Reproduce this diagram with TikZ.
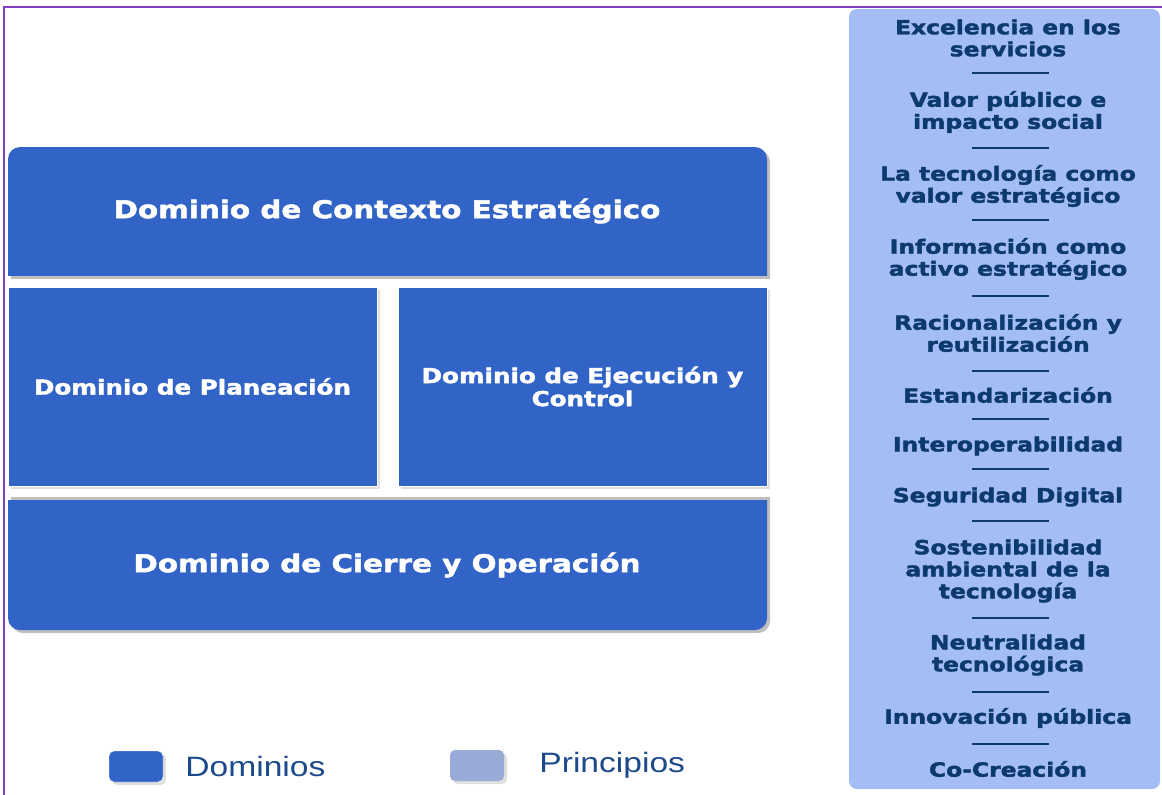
\documentclass[tikz,border=0pt]{standalone}
\usepackage{fontspec}
\usepackage{xcolor}
\usetikzlibrary{calc,positioning,shadows}
\newfontfamily\titlefont[FakeStretch=1.2,FakeBold=2]{DejaVu Sans Bold}
\newfontfamily\legendfont[FakeStretch=1.2]{Liberation Sans}
\definecolor{domBlue}{RGB}{50,100,200}
\definecolor{prinBlue}{RGB}{164,190,245}
\definecolor{legendGray}{RGB}{152,171,214}
\definecolor{textNavy}{RGB}{12,58,110}
\definecolor{legendNavy}{RGB}{28,74,138}
\definecolor{framePurple}{RGB}{128,64,192}
\tikzset{
  domshadow/.style={fill=black!25},
  dombox/.style={fill=domBlue,draw=white,line width=1pt,text=white,align=center,
    font=\titlefont\fontsize{20.5}{23}\selectfont,
    drop shadow={shadow xshift=3pt,shadow yshift=-3pt,fill=black!25}},
  domtitle/.style={text=white,align=center,font=\titlefont\fontsize{24.5}{26}\selectfont},
  prinlabel/.style={text=textNavy,align=center,inner sep=0pt,font=\titlefont\fontsize{19.5}{22}\selectfont},
  prinsep/.style={draw=textNavy,line width=1.2pt},
  legbox/.style={rounded corners=5pt,minimum width=54pt,minimum height=31pt,inner sep=0pt,
    drop shadow={shadow xshift=3pt,shadow yshift=-3pt,fill=black!25}},
  legtext/.style={text=legendNavy,font=\legendfont\fontsize{28}{30}\selectfont,inner sep=0pt}
}
\begin{document}
\begin{tikzpicture}[x=1pt,y=-1pt]
\useasboundingbox (0,0) rectangle (1162,795);
% frame
\draw[framePurple,line width=1.5pt] (4,795) -- (4,7) -- (1162,7);

% dominio de contexto estrategico (rounded on top only)
\begin{scope}
\clip (0,140) rectangle (780,278);
\fill[domshadow,rounded corners=12pt] (11,150) rectangle (770,300);
\end{scope}
\begin{scope}
\clip (0,140) rectangle (780,275);
\fill[domBlue,rounded corners=12pt] (8,147) rectangle (767,300);
\end{scope}
\node[domtitle] (contexto) at (387,211) {Dominio de Contexto Estratégico};

% planeacion / ejecucion
\node[dombox,minimum width=369pt,minimum height=199pt] (planeacion) at (192.5,386.5) {Dominio de Planeación};
\node[dombox,minimum width=369pt,minimum height=199pt] (ejecucion) at (582.5,386.5) {Dominio de Ejecución y\\Control};

% dominio de cierre (rounded at bottom only)
\begin{scope}
\clip (0,497) rectangle (780,640);
\fill[domshadow,rounded corners=12pt] (11,480) rectangle (770,633);
\end{scope}
\begin{scope}
\clip (0,500) rectangle (780,640);
\fill[domBlue,rounded corners=12pt] (8,480) rectangle (767,630);
\end{scope}
\node[domtitle] (cierre) at (387,565) {Dominio de Cierre y Operación};

% principios
\fill[prinBlue,rounded corners=8pt] (849,9) rectangle (1160,789);
\node[prinlabel] (excelencia) at (1008,38) {Excelencia en los\\servicios};
\draw[prinsep] (972,73) -- (1049,73);
\node[prinlabel] (valor) at (1008,112) {Valor público e\\impacto social};
\draw[prinsep] (972,148) -- (1049,148);
\node[prinlabel] (tecnologia) at (1008,186) {La tecnología como\\valor estratégico};
\draw[prinsep] (972,220) -- (1049,220);
\node[prinlabel] (informacion) at (1008,259) {Información como\\activo estratégico};
\draw[prinsep] (972,296) -- (1049,296);
\node[prinlabel] (racionalizacion) at (1008,333) {Racionalización y\\reutilización};
\draw[prinsep] (972,371) -- (1049,371);
\node[prinlabel] (estandarizacion) at (1008,395) {Estandarización};
\draw[prinsep] (972,419) -- (1049,419);
\node[prinlabel] (interoperabilidad) at (1008,446) {Interoperabilidad};
\draw[prinsep] (972,469) -- (1049,469);
\node[prinlabel] (seguridad) at (1008,497) {Seguridad Digital};
\draw[prinsep] (972,521) -- (1049,521);
\node[prinlabel] (sostenibilidad) at (1008,571) {Sostenibilidad\\ambiental de la\\tecnología};
\draw[prinsep] (972,618) -- (1049,618);
\node[prinlabel] (neutralidad) at (1008,655) {Neutralidad\\tecnológica};
\draw[prinsep] (972,692) -- (1049,692);
\node[prinlabel] (innovacion) at (1008,718) {Innovación pública};
\draw[prinsep] (972,744) -- (1049,744);
\node[prinlabel] (cocreacion) at (1008,769) {Co-Creación};

% leyenda
\node[legbox,fill=domBlue,draw=white] (keyDom) at (136,766.5) {};
\node[legtext,anchor=west,right=22pt of keyDom] (keyDomText) {Dominios};
\node[legbox,fill=legendGray] (keyPrin) at (477,765.5) {};
\node[legtext,anchor=west,right=35pt of keyPrin] (keyPrinText) {Principios};
\end{tikzpicture}
\end{document}
